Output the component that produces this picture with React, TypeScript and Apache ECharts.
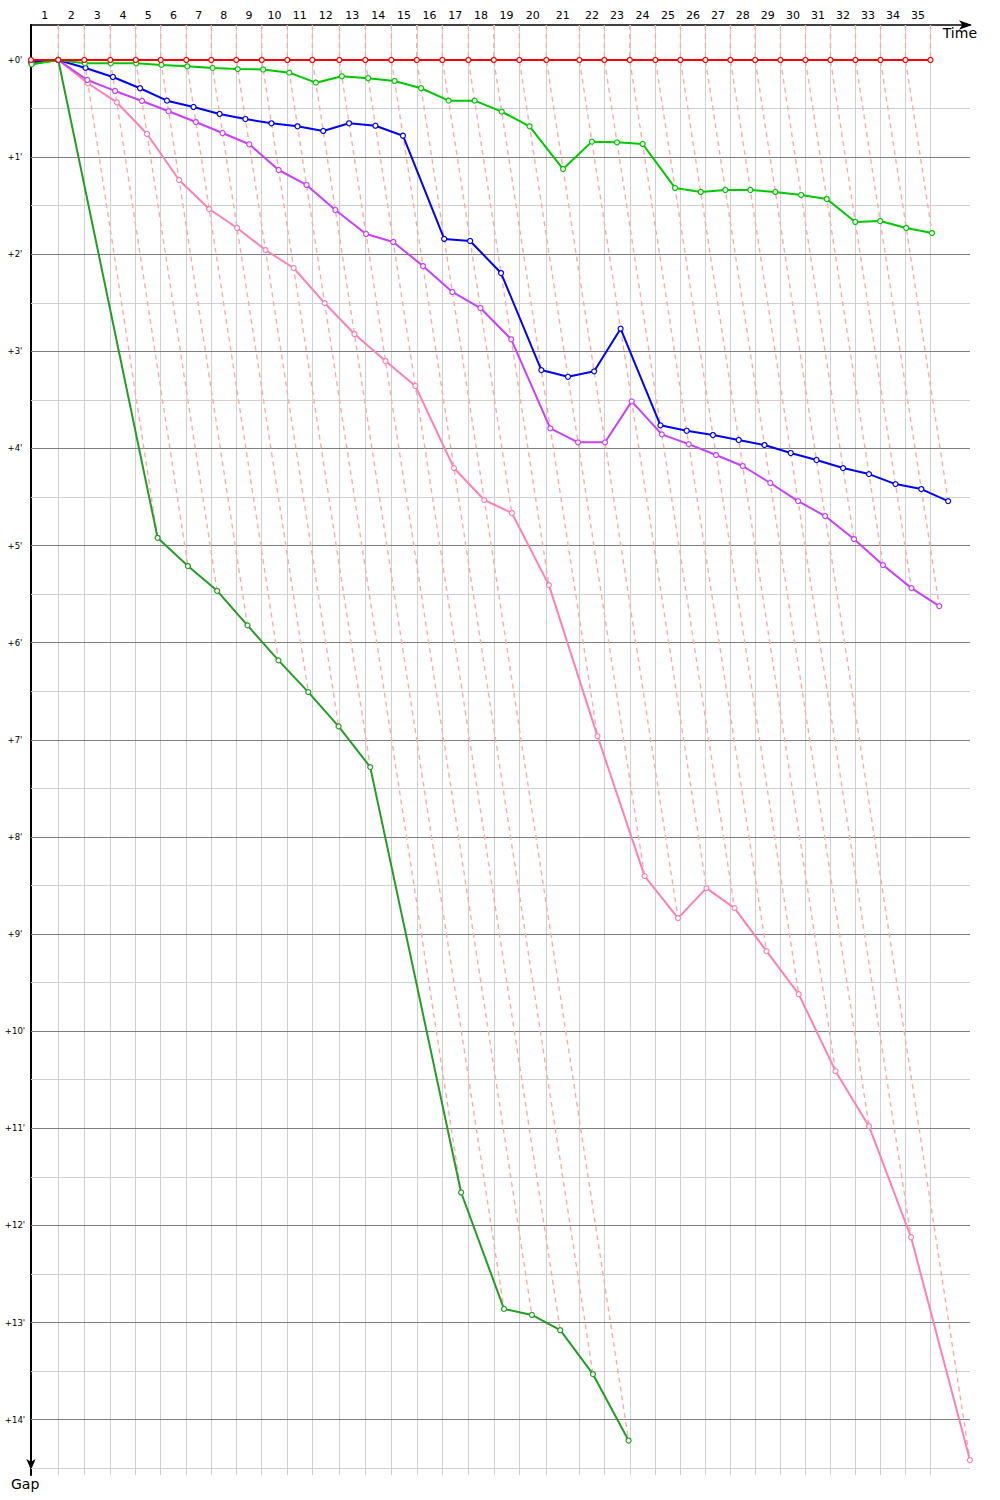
import React, { useEffect, useRef } from 'react';
import * as echarts from 'echarts';

// Leader lap durations in seconds (laps 1..35)
const leaderLapTimes = [
  109.9, 104.7, 104.7, 102.3, 100.7, 103.1, 100.7, 100.7, 102.3, 103.1,
  100.7, 108.7, 104.7, 104.7, 102.3, 103.1, 104.7, 102.3, 103.1, 108.7,
  132.9, 100.7, 102.3, 103.1, 100.7, 100.7, 100.7, 99.5, 101.9, 100.7,
  100.7, 100.7, 100.7, 100.7, 100.7,
];

// Gap to the leader in minutes, index = lap number (0 = start)
const leaderGaps = [
  0, 0, 0, 0, 0, 0, 0, 0, 0, 0, 0, 0, 0, 0, 0, 0, 0, 0,
  0, 0, 0, 0, 0, 0, 0, 0, 0, 0, 0, 0, 0, 0, 0, 0, 0, 0,
];
const greenGaps = [
  0.044, 0, 0.034, 0.034, 0.034, 0.051, 0.065, 0.082, 0.094, 0.098,
  0.131, 0.234, 0.168, 0.188, 0.216, 0.291, 0.419, 0.419, 0.532, 0.683,
  1.123, 0.841, 0.848, 0.865, 1.318, 1.359, 1.339, 1.339, 1.359, 1.39,
  1.432, 1.668, 1.658, 1.73, 1.782,
];
const blueGaps = [
  0.022, 0, 0.082, 0.175, 0.291, 0.419, 0.484, 0.556, 0.608, 0.652,
  0.683, 0.731, 0.652, 0.677, 0.78, 1.843, 1.864, 2.194, 3.193, 3.262,
  3.206, 2.767, 3.762, 3.818, 3.862, 3.913, 3.965, 4.047, 4.119, 4.202,
  4.264, 4.367, 4.418, 4.542,
];
const purpleGaps = [
  0.028, 0, 0.206, 0.319, 0.422, 0.528, 0.639, 0.752, 0.868, 1.133,
  1.287, 1.545, 1.792, 1.874, 2.122, 2.389, 2.554, 2.876, 3.793, 3.937,
  3.937, 3.515, 3.855, 3.955, 4.068, 4.181, 4.356, 4.542, 4.696, 4.933,
  5.201, 5.438, 5.623,
];
const pinkGaps = [
  0.01, 0, 0.24, 0.436, 0.762, 1.236, 1.535, 1.73, 1.957, 2.142,
  2.503, 2.822, 3.1, 3.357, 4.202, 4.531, 4.665, 5.407, 6.962, 8.404,
  8.836, 8.527, 8.733, 9.176, 9.619, 10.412, 10.978, 12.122, 14.418,
];
const darkGreenGaps = [
  0.041, 0, 4.92, 5.211, 5.466, 5.822, 6.182, 6.509, 6.862, 7.281,
  11.661, 12.86, 12.922, 13.079, 13.532, 14.215,
];

const gapTicks = [0, 1, 2, 3, 4, 5, 6, 7, 8, 9, 10, 11, 12, 13, 14];

const drivers = [
  { name: 'P5', color: '#ff80b4', gaps: pinkGaps },
  { name: 'P6', color: '#259c25', gaps: darkGreenGaps },
  { name: 'P4', color: '#c840ff', gaps: purpleGaps },
  { name: 'P3', color: '#0000ff', gaps: blueGaps },
  { name: 'P2', color: '#00c800', gaps: greenGaps },
  { name: 'P1', color: '#ff0000', gaps: leaderGaps },
];

const X_MAX = 3781; // seconds
const Y_MIN = -0.36; // minutes
const Y_MAX = 14.57;

export default function App() {
  const ref = useRef<HTMLDivElement>(null);

  useEffect(() => {
    document.body.style.margin = '0';
    const chart = echarts.init(ref.current!, null, { renderer: 'svg' });

    const leaderCum: number[] = [0];
    leaderLapTimes.forEach((t, i) => leaderCum.push(leaderCum[i] + t));
    const lapMids = leaderLapTimes.map((_, i) => (leaderCum[i] + leaderCum[i + 1]) / 2);

    const toPoints = (gaps: number[]) => gaps.map((g, n) => [leaderCum[n] + g * 60, g]);

    // grid lines
    const gridData: any[] = [];
    for (let n = 1; n < leaderCum.length; n++) {
      gridData.push({ coords: [[leaderCum[n], Y_MIN], [leaderCum[n], Y_MAX]], lineStyle: { color: '#d0d0d0' } });
    }
    for (let v = 0.5; v <= 14.5; v += 0.5) {
      const major = Math.abs(v - Math.round(v)) < 1e-6;
      gridData.push({ coords: [[0, v], [X_MAX, v]], lineStyle: { color: major ? '#7f7f7f' : '#d0d0d0' } });
    }

    // lap lines (dashed)
    const lapData: any[] = [];
    for (let n = 1; n < leaderCum.length; n++) {
      let gmax = 0;
      drivers.forEach((d) => {
        if (d.gaps.length > n && d.gaps[n] > gmax) gmax = d.gaps[n];
      });
      const L = leaderCum[n];
      const coords: number[][] = [[L, Y_MIN], [L, 0]];
      if (gmax > 0) coords.push([L + gmax * 60, gmax]);
      lapData.push({ coords });
    }

    const font = 'DejaVu Sans';

    const option: any = {
      animation: false,
      backgroundColor: '#ffffff',
      grid: { left: 31, right: 30, top: 25, bottom: 25, containLabel: false },
      xAxis: {
        type: 'value',
        position: 'top',
        min: 0,
        max: X_MAX,
        axisLine: {
          show: true,
          onZero: false,
          lineStyle: { color: '#000', width: 1.5 },
          symbol: ['none', 'arrow'],
          symbolSize: [7, 13],
          symbolOffset: [0, 2],
        },
        axisTick: { show: false },
        splitLine: { show: false },
        axisLabel: {
          show: true,
          customValues: lapMids,
          formatter: (v: number) => {
            const i = lapMids.findIndex((m) => Math.abs(m - v) < 1);
            return i >= 0 ? String(i + 1) : '';
          },
          color: '#000',
          fontSize: 11,
          fontFamily: font,
          margin: 4,
        },
      },
      yAxis: {
        type: 'value',
        inverse: true,
        min: Y_MIN,
        max: Y_MAX,
        axisLine: {
          show: true,
          onZero: false,
          lineStyle: { color: '#000', width: 2 },
          symbol: ['arrow', 'none'],
          symbolSize: [7, 11],
          symbolOffset: [5, 0],
        },
        axisTick: { show: false },
        splitLine: { show: false },
        axisLabel: {
          show: true,
          customValues: gapTicks,
          formatter: (v: number) => `+${v}'`,
          align: 'center',
          margin: 16,
          color: '#000',
          fontSize: 8.5,
          fontFamily: font,
        },
      },
      graphic: [
        {
          type: 'text',
          right: 23,
          top: 26,
          style: { text: 'Time', fill: '#000', font: `14px "${font}"` },
        },
        {
          type: 'text',
          left: 11,
          top: 1477,
          style: { text: 'Gap', fill: '#000', font: `14px "${font}"` },
        },
      ],
      series: [
        {
          type: 'lines',
          coordinateSystem: 'cartesian2d',
          polyline: false,
          silent: true,
          z: 1,
          lineStyle: { width: 1, opacity: 1 },
          data: gridData,
        },
        {
          type: 'lines',
          coordinateSystem: 'cartesian2d',
          polyline: true,
          silent: true,
          z: 2,
          lineStyle: { color: '#ffaaaa', width: 1.4, type: [5, 4], opacity: 1 },
          data: lapData,
        },
        ...drivers.map((d) => ({
          type: 'line',
          name: d.name,
          data: toPoints(d.gaps),
          symbol: 'circle',
          symbolSize: 5,
          showSymbol: true,
          clip: false,
          z: 3,
          lineStyle: { color: d.color, width: 2 },
          itemStyle: { color: '#ffffff', borderColor: d.color, borderWidth: 1.2 },
          emphasis: { disabled: true },
        })),
      ],
    };

    chart.setOption(option);
    return () => chart.dispose();
  }, []);

  return <div ref={ref} style={{ width: 1000, height: 1500 }} />;
}
